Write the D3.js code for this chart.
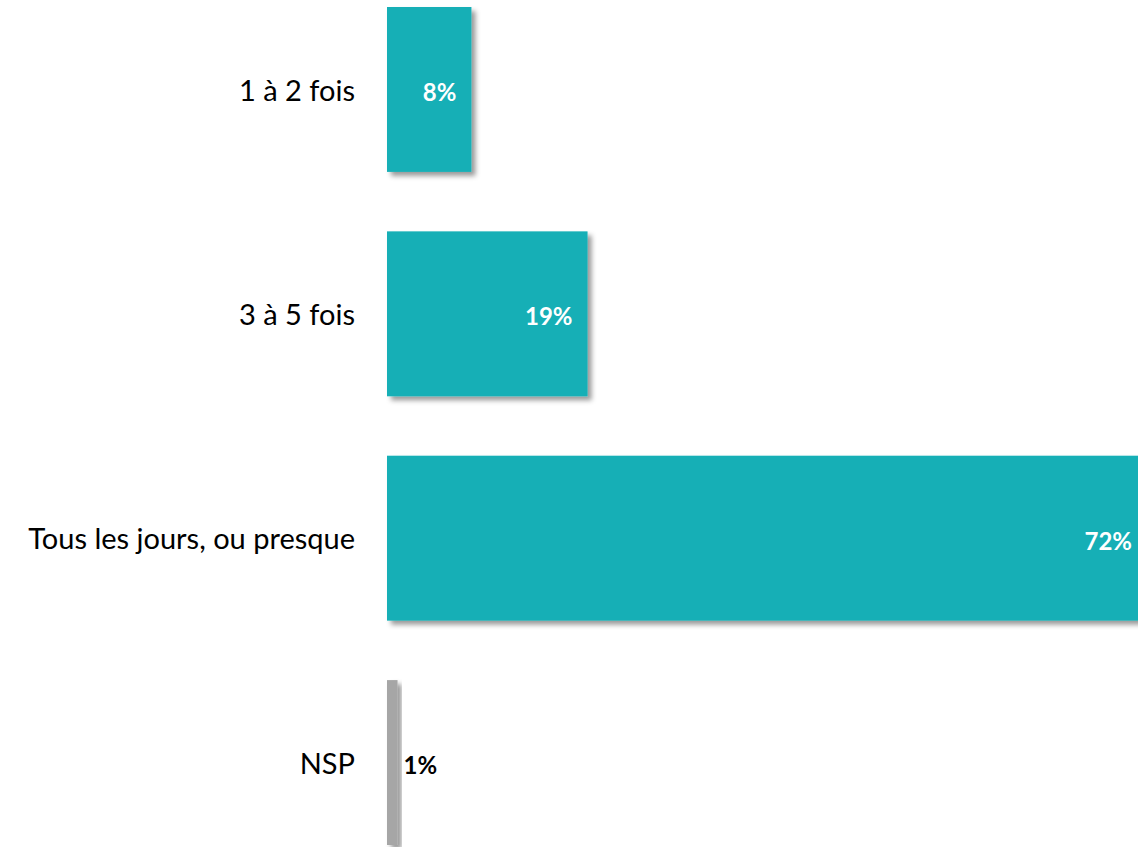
<!DOCTYPE html>
<html>
<head>
<meta charset="utf-8">
<script src="https://cdn.jsdelivr.net/npm/d3@7"></script>
<style>
  body { margin: 0; background: #fff; }
  .cat-label { font-family: Lato, "Open Sans", sans-serif; font-size: 29px; fill: #000; }
  .val-label { font-family: Lato, "Open Sans", sans-serif; font-size: 24px; font-weight: bold; }
</style>
</head>
<body>
<div class="chart"></div>
<script>
// Data
const categories = ["1 à 2 fois", "3 à 5 fois", "Tous les jours, ou presque", "NSP"];
const values = [8, 19, 72, 1];
const barColors = ["#14afb6", "#14afb6", "#14afb6", "#a6a6a6"];

const svgWidth = 1138;
const svgHeight = 847;

const svg = d3.select(".chart")
  .append("svg")
  .attr("width", svgWidth)
  .attr("height", svgHeight);

// drop shadow for bars
const defs = svg.append("defs");
defs.append("filter")
  .attr("id", "shadow")
  .attr("x", "-20%").attr("y", "-20%")
  .attr("width", "160%").attr("height", "160%")
  .append("feDropShadow")
  .attr("dx", 4)
  .attr("dy", 4)
  .attr("stdDeviation", 2.5)
  .attr("flood-color", "#000")
  .attr("flood-opacity", 0.4);

// scales
const x = d3.scaleLinear()
  .domain([0, 72])
  .range([387, 1147]);

const y = d3.scaleBand()
  .domain(categories)
  .range([7, 845])
  .paddingInner(0.265)
  .paddingOuter(0);

const rows = categories.map((c, i) => ({ cat: c, value: values[i], color: barColors[i] }));

// bars
svg.selectAll("rect.bar")
  .data(rows)
  .enter()
  .append("rect")
  .attr("class", "bar")
  .attr("x", x(0))
  .attr("y", d => y(d.cat))
  .attr("width", d => x(d.value) - x(0))
  .attr("height", y.bandwidth())
  .attr("fill", d => d.color)
  .attr("filter", "url(#shadow)");

// category labels
svg.selectAll("text.cat-label")
  .data(rows)
  .enter()
  .append("text")
  .attr("class", "cat-label")
  .attr("x", 355)
  .attr("y", d => y(d.cat) + y.bandwidth() / 2 + 1)
  .attr("dy", "0.35em")
  .attr("text-anchor", "end")
  .text(d => d.cat);

// value labels: inside the bar when wide, outside otherwise
svg.selectAll("text.val-label")
  .data(rows)
  .enter()
  .append("text")
  .attr("class", "val-label")
  .attr("x", d => d.value > 3 ? x(d.value) - 15 : x(d.value) + 6)
  .attr("y", d => y(d.cat) + y.bandwidth() / 2 + 3)
  .attr("dy", "0.35em")
  .attr("text-anchor", d => d.value > 3 ? "end" : "start")
  .attr("fill", d => d.value > 3 ? "#fff" : "#000")
  .text(d => d.value + "%");
</script>
</body>
</html>
